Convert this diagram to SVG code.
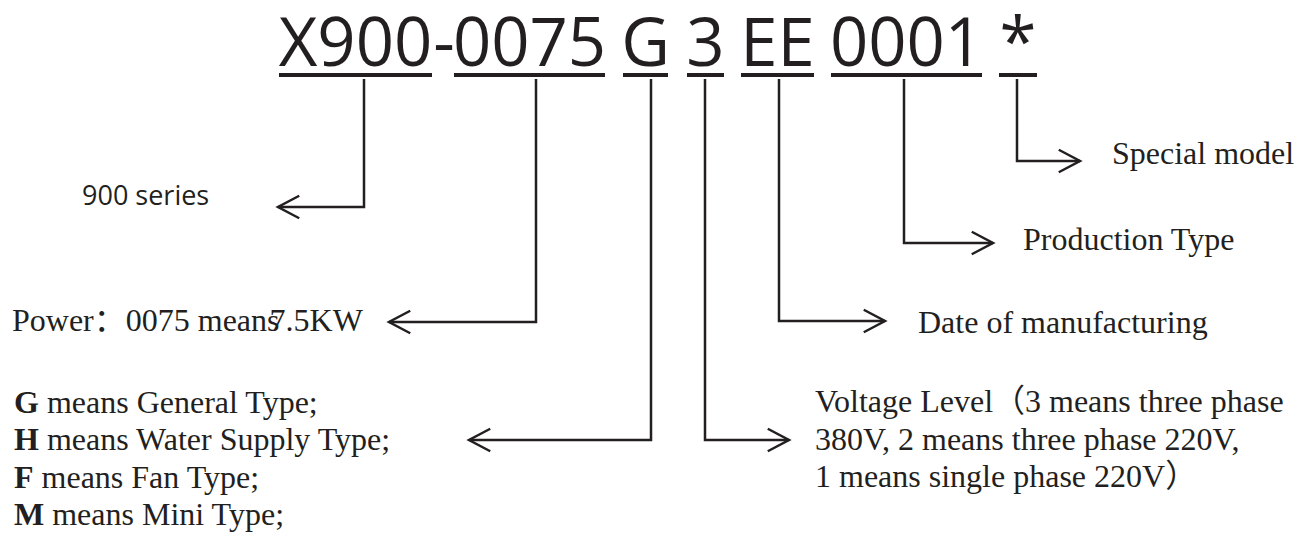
<svg xmlns="http://www.w3.org/2000/svg" width="1307" height="551" viewBox="0 0 1307 551">
<defs>
<style>
.title{font-family:"Open Sans","Liberation Sans",sans-serif;font-size:67px;fill:#231f20;text-anchor:middle}
.ul{fill:#231f20}
.lbl{font-family:"Liberation Serif","Times New Roman","Noto Sans CJK SC",serif;font-size:32px;fill:#231f20}
.sans{font-family:"Open Sans","Liberation Sans",sans-serif;font-size:27px;fill:#231f20}
.conn{fill:none;stroke:#231f20;stroke-width:2.5;marker-end:url(#arr)}
</style>
<marker id="arr" markerUnits="userSpaceOnUse" markerWidth="30" markerHeight="30" viewBox="-20 -12 24 24" refX="0" refY="0" orient="auto">
<path d="M-17,-9 L0,0 L-17,9" fill="none" stroke="#231f20" stroke-width="2"/>
</marker>
</defs>
<rect width="1307" height="551" fill="#ffffff"/>
<g id="code">
<text class="title" x="355.5" y="66">X900</text>
<text class="title" x="444" y="66">-</text>
<text class="title" x="529.5" y="66">0075</text>
<text class="title" x="645.5" y="66">G</text>
<text class="title" x="705.5" y="66">3</text>
<text class="title" x="777.5" y="66">EE</text>
<text class="title" x="906.5" y="66">0001</text>
<text class="title" x="1018" y="66">*</text>
<rect class="ul" x="279" y="73" width="153" height="4"/>
<rect class="ul" x="454" y="73" width="151" height="4"/>
<rect class="ul" x="623" y="73" width="45" height="4"/>
<rect class="ul" x="687" y="73" width="37" height="4"/>
<rect class="ul" x="741" y="73" width="73" height="4"/>
<rect class="ul" x="831" y="73" width="151" height="4"/>
<rect class="ul" x="999" y="73" width="38" height="4"/>
</g>
<g id="connectors">
<path class="conn" d="M364,79 V207 H278"/>
<path class="conn" d="M536,79 V322 H389"/>
<path class="conn" d="M651,79 V440 H469"/>
<path class="conn" d="M705,79 V440 H789"/>
<path class="conn" d="M779,79 V321 H885"/>
<path class="conn" d="M904,79 V243 H993"/>
<path class="conn" d="M1017,79 V161 H1080"/>
</g>
<g id="series">
<text class="sans" x="82" y="205">900 series</text>
</g>
<g id="power">
<text class="lbl" x="12" y="331" font-size="30.5">Power：0075 means<tspan dx="-10">7.5KW</tspan></text>
</g>
<g id="type">
<text class="lbl" x="14" y="413"><tspan font-weight="bold">G</tspan> means General Type;</text>
<text class="lbl" x="14" y="450"><tspan font-weight="bold">H</tspan> means Water Supply Type;</text>
<text class="lbl" x="14" y="488"><tspan font-weight="bold">F</tspan> means Fan Type;</text>
<text class="lbl" x="14" y="525"><tspan font-weight="bold">M</tspan> means Mini Type;</text>
</g>
<g id="voltage">
<text class="lbl" x="815" y="412">Voltage Level（3 means three phase</text>
<text class="lbl" x="815" y="450">380V, 2 means three phase 220V,</text>
<text class="lbl" x="815" y="487">1 means single phase 220V）</text>
</g>
<g id="date">
<text class="lbl" x="918" y="333">Date of manufacturing</text>
</g>
<g id="production">
<text class="lbl" x="1023" y="250">Production Type</text>
</g>
<g id="special">
<text class="lbl" x="1112" y="164">Special model</text>
</g>
</svg>
